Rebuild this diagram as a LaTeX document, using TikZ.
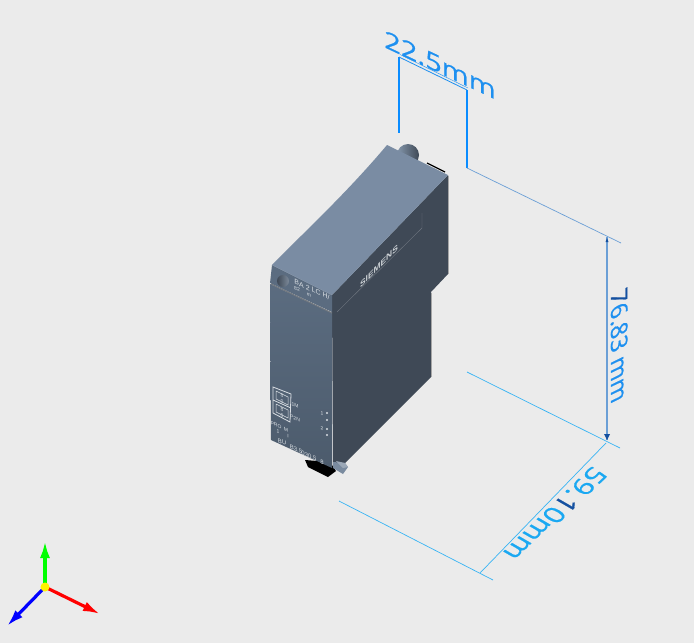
\documentclass[tikz,border=0pt]{standalone}
\usepackage{fontspec}
\usetikzlibrary{arrows.meta}
\setmainfont{Liberation Sans}
\newfontfamily\dimfont[FakeBold=0.5]{Open Sans}
\definecolor{bgc}{HTML}{EBEBEB}
\definecolor{dimA}{HTML}{1E90F0}
\definecolor{dimB}{HTML}{6B9FD6}
\definecolor{dimC}{HTML}{1AA8F2}
\definecolor{dimD}{HTML}{1450A0}
\definecolor{dimE}{HTML}{38B4F4}
\definecolor{dimV}{HTML}{0A8CFF}
\definecolor{topc}{HTML}{7A8CA3}
\definecolor{rightc}{HTML}{3F4956}
\definecolor{frontT}{HTML}{5B6C80}
\definecolor{frontB}{HTML}{4C5B6C}
\definecolor{markc}{HTML}{D9DEE3}
\definecolor{latchc}{HTML}{7A8B9F}
\definecolor{knobL}{HTML}{8496AB}
\tikzset{
 dimline/.style={draw=dimA,line width=.8pt},
 extline/.style={draw=dimE,line width=.7pt},
 dimtext/.style={inner sep=0pt,anchor=base west,font=\dimfont\fontsize{24}{24}\selectfont},
 mk/.style={inner sep=0pt,text=markc,font=\fontsize{5}{5}\selectfont,yslant=-.46},
 mkb/.style={mk,font=\fontsize{6}{6}\selectfont},
 axis/.style={line width=3.2pt,-{Latex[length=17pt,width=10pt]}}
}
\begin{document}
\begin{tikzpicture}[x=1pt,y=-1pt]
\fill[bgc] (0,0) rectangle (694,643);
\useasboundingbox (0,0) rectangle (694,643);
% knob
\shade[left color=knobL,right color=rightc] (408,155) circle (11);
% black stripe behind top
\draw[black,line width=1.2pt] (427,163) -- (445,172);
% right face
\fill[rightc] (332,295) -- (448,175) -- (448,274) -- (431,292) -- (431,377) -- (345,463) -- (333,468) -- cycle;
\draw[gray!70,line width=.7pt] (448,176) -- (448,274);
\draw[gray!70,line width=.6pt] (431,293) -- (431,377);
\draw[draw=rightc!75!white,line width=.4pt] (337,312) -- (422,228) -- (422,213);
% black foot
\fill[black] (305,460) -- (308,467) -- (328,477) -- (336,471) -- (330,462) -- cycle;
% latch
\fill[latchc] (333,462) -- (345,463) -- (348,467) -- (343,474) -- (333,468) -- cycle;
\fill[latchc!75!white] (336,461) -- (345,463) -- (348,467) -- (343,468) -- cycle;
% front face
\shade[top color=frontT,bottom color=frontB] (270,284) -- (332,313) -- (332,468) -- (271,440) -- cycle;
% collar
\fill[frontT] (272,265) -- (332,295) -- (332,312) -- (270,283) -- cycle;
\draw[gray!60!frontT,line width=1.2pt] (271,284) -- (332,313);
% top face
\fill[topc]
  (272,265) .. controls (300,236) and (345,195) .. (387,145) -- (448,175) -- (332,295) -- cycle;
% faceplate text
\node[mk,font=\fontsize{7}{7}\selectfont] (type) at (312,289.5) {BA 2 LC H/};
\node[mk] (sub1) at (297,289) {82};
\node[mk] (sub2) at (309,295) {m};
\shade[left color=rightc,right color=frontT!80!white] (283,281) circle (6);
\node[inner sep=0pt,text=markc!85!gray,font=\bfseries\fontsize{8.4}{8}\selectfont,yslant=1.03] (brand) at (379,266) {SIEMENS};
% terminal box
\draw[markc,line width=.8pt] (273,387) -- (291,394) -- (290,422) -- (273,413) -- cycle;
\draw[markc,line width=.8pt] (273,400) -- (291,408);
\draw[markc,line width=.5pt] (276,391) -- (288,397) -- (288,405) -- (276,399) -- cycle;
\draw[markc,line width=.5pt] (276,404) -- (288,410) -- (288,418) -- (276,412) -- cycle;
\node[mk] (t1) at (282,395) {8};
\node[mk] (t2) at (282,401) {0};
\node[mk] (t3) at (282,409) {8};
\node[mk] (t4) at (282,415) {0};
\node[mk] (m1) at (295,405) {1M};
\node[mk] (m2) at (295,418) {P2N};
\node[mk] (p1) at (276,425) {PRO};
\node[mk] (p2) at (278,431) {1};
\node[mk] (p3) at (286,430) {M};
\node[mk] (p4) at (288,436) {I};
\node[mkb] (b1) at (282,442) {BU};
\node[mkb] (b2) at (296,449) {B3.5};
\node[mkb] (b3) at (309,456) {030.5};
\node[mkb] (b4) at (322,462) {8};
\node[mk] (n1) at (322,413) {1};
\node[mk] (n2) at (322,428) {2};
\foreach \p in {(327,413),(327,420),(327,429),(327,435)} \fill[markc] \p circle (1.2);
% dimensions: coordinates
\coordinate (a1) at (399,57); \coordinate (a2) at (399,133);
\coordinate (b1c) at (467,90); \coordinate (b2c) at (467,168);
\coordinate (c1) at (621,243); \coordinate (c0) at (607,237);
\coordinate (d0) at (607,440); \coordinate (e1) at (467,372); \coordinate (e2) at (620,448);
\coordinate (f0) at (606,443);
\coordinate (f1) at (480,573); \coordinate (g1) at (339,501); \coordinate (g2) at (493,580);
\draw[draw=dimV,line width=1.4pt] (a1) -- (a2);
\draw[draw=dimV,line width=1.4pt] (b1c) -- (b2c);
\draw[dimline] (a1) -- (b1c);
\draw[draw=dimA,line width=.4pt] (400,54.5) -- (468,88);
\draw[extline,draw=dimB] (b2c) -- (c1);
\draw[extline] (e1) -- (e2);
\draw[extline] (g1) -- (g2);
\draw[draw=dimB,line width=1.6pt] (c0) -- (d0);
\draw[extline] (f0) -- (f1);
\fill[dimD] (607,440) -- (604,434) -- (610,434) -- cycle;
\fill[dimD] (607,238) -- (605.5,242) -- (608.5,242) -- cycle;
% dimension texts
\node[dimtext,text=dimA,cm={1.21,-.57,0,1,(0,0)}] (ta) at (384,47) {22.5mm};
\node[dimtext,text=dimA,font=\dimfont\fontsize{23}{23}\selectfont,cm={0,-1.03,1,.49,(0,0)}] (tb) at (611,294) {\textcolor{dimD}{7}6.83 mm};
\node[dimtext,text=dimC,cm={-.86,-.83,.95,-.55,(0,0)}] (tc) at (593,465) {59.\textcolor{dimD}{1}0mm};
% triad
\coordinate (o) at (45,587);
\coordinate (oy) at (45,541);
\coordinate (ox) at (100,614);
\coordinate (oz) at (7,626);
\draw[axis,draw=green!90!black,color=green] (o) -- (oy);
\draw[axis,draw=red,color=red] (o) -- (ox);
\draw[axis,draw=blue,color=blue] (o) -- (oz);
\fill[yellow] (o) circle (4.5);
\end{tikzpicture}
\end{document}
